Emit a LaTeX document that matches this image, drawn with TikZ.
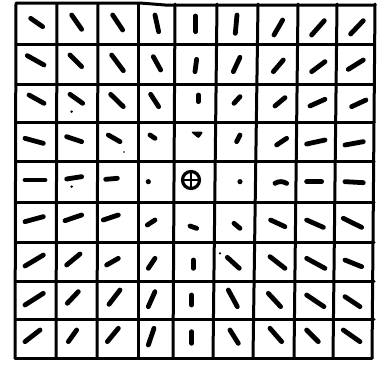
\documentclass[tikz,border=0pt]{standalone}
\begin{document}
\tikzset{
  gridline/.style={line width=3pt, line cap=round, line join=round},
  vec/.style={line width=4.8pt, line cap=round},
  speck/.style={fill=black},
}
\newcommand\vseg[4]{\draw[vec] (#1,#2) -- (#3,#4);}
\newcommand\vdot[3]{\fill[speck] (#1,#2) circle[radius=#3pt];}
\begin{tikzpicture}[x=1pt,y=-1pt]
\useasboundingbox (0,0) rectangle (377,365);
% grid
\foreach \a/\b in {16/15,57/56,98/97,138/138,175/173,217/213,258/253,298/294,337/333,375/372}
  \draw[gridline] (\a,4) -- (\b,358);
\draw[gridline] (16,3) -- (140,3) -- (165,5) -- (375,5);
\foreach \y in {44,84,122,161,202,242,281,319}
  \draw[gridline] (16,\y) -- (374,\y);
\draw[gridline] (15,358) -- (372,358);
% rows 0-2
\begin{scope}[shift={(10,0)},x=0.3333pt,y=-0.3333pt]
\vseg{62}{55}{98}{80}\vseg{185}{45}{215}{88}\vseg{308}{45}{338}{90}
\vseg{435}{45}{446}{95}\vseg{557}{48}{557}{95}\vseg{681}{45}{676}{100}
\vseg{818}{60}{792}{105}\vseg{943}{62}{905}{105}\vseg{1060}{62}{1022}{102}
\vseg{52}{167}{102}{195}\vseg{180}{165}{215}{200}\vseg{305}{165}{340}{212}
\vseg{430}{170}{452}{210}\vseg{560}{178}{555}{215}\vseg{690}{172}{670}{215}
\vseg{820}{180}{790}{215}\vseg{945}{185}{905}{215}\vseg{1060}{180}{1015}{208}
\vseg{57}{285}{102}{310}\vseg{180}{283}{218}{310}\vseg{302}{283}{340}{320}
\vseg{422}{283}{446}{320}\vseg{565}{285}{565}{305}\vseg{690}{290}{672}{310}
\vseg{825}{293}{795}{318}\vseg{945}{298}{900}{318}\vseg{1068}{300}{1025}{320}
\vdot{185}{335}{1.4}
\end{scope}
% rows 3-5
\begin{scope}[shift={(10,120)},x=0.3333pt,y=-0.3333pt]
\vseg{45}{55}{100}{70}\vseg{170}{50}{215}{65}\vseg{295}{45}{330}{65}
\vseg{420}{45}{435}{55}
\fill[rounded corners=2pt] (542,35) -- (580,35) -- (566,56) -- cycle;
\vseg{690}{45}{680}{65}
\vseg{830}{55}{800}{75}\vseg{945}{60}{890}{72}\vseg{1060}{65}{1005}{75}
\vseg{45}{180}{105}{180}\vseg{170}{177}{215}{170}\vseg{287}{178}{322}{175}
\vdot{415}{185}{2.6}\vdot{690}{185}{2.6}
\draw[vec] (795,190) to[bend left=30] (830,190);
\vseg{890}{185}{935}{185}\vseg{1005}{185}{1060}{188}
\vseg{45}{305}{100}{290}\vseg{165}{302}{215}{285}\vseg{280}{300}{325}{285}
\vseg{412}{315}{435}{300}\vseg{540}{318}{560}{325}\vseg{672}{310}{690}{325}
\vseg{782}{300}{825}{320}\vseg{890}{300}{940}{322}\vseg{1000}{295}{1055}{322}
\vdot{185}{200}{1.4}\vdot{342}{96}{0.8}
\end{scope}
% rows 6-8
\begin{scope}[shift={(10,240)},x=0.3333pt,y=-0.3333pt]
\vseg{45}{78}{100}{45}\vseg{170}{75}{210}{42}\vseg{290}{75}{325}{55}
\vseg{415}{85}{435}{55}\vseg{550}{60}{550}{85}\vseg{652}{52}{688}{85}
\vseg{780}{50}{825}{85}\vseg{890}{55}{945}{85}\vseg{1005}{60}{1055}{80}
\vseg{45}{195}{100}{160}\vseg{172}{190}{205}{155}\vseg{297}{193}{330}{150}
\vseg{415}{200}{435}{155}\vseg{545}{165}{545}{195}\vseg{655}{150}{682}{200}
\vseg{775}{160}{812}{200}\vseg{890}{165}{942}{200}\vseg{1005}{170}{1050}{200}
\vseg{45}{305}{90}{270}\vseg{175}{305}{200}{270}\vseg{292}{305}{325}{265}
\vseg{415}{315}{432}{265}\vseg{545}{275}{545}{310}\vseg{660}{270}{685}{310}
\vseg{780}{265}{815}{305}\vseg{890}{270}{925}{305}\vseg{1000}{270}{1050}{305}
\vdot{630}{40}{1.2}
\end{scope}
% centre symbol
\node[circle, draw, line width=3.2pt, minimum size=17pt, inner sep=0pt] (ctr) at (191,180) {};
\draw[line width=2pt] (ctr.north) -- (ctr.south);
\draw[line width=2pt] (ctr.west) -- (ctr.east);
\end{tikzpicture}
\end{document}
